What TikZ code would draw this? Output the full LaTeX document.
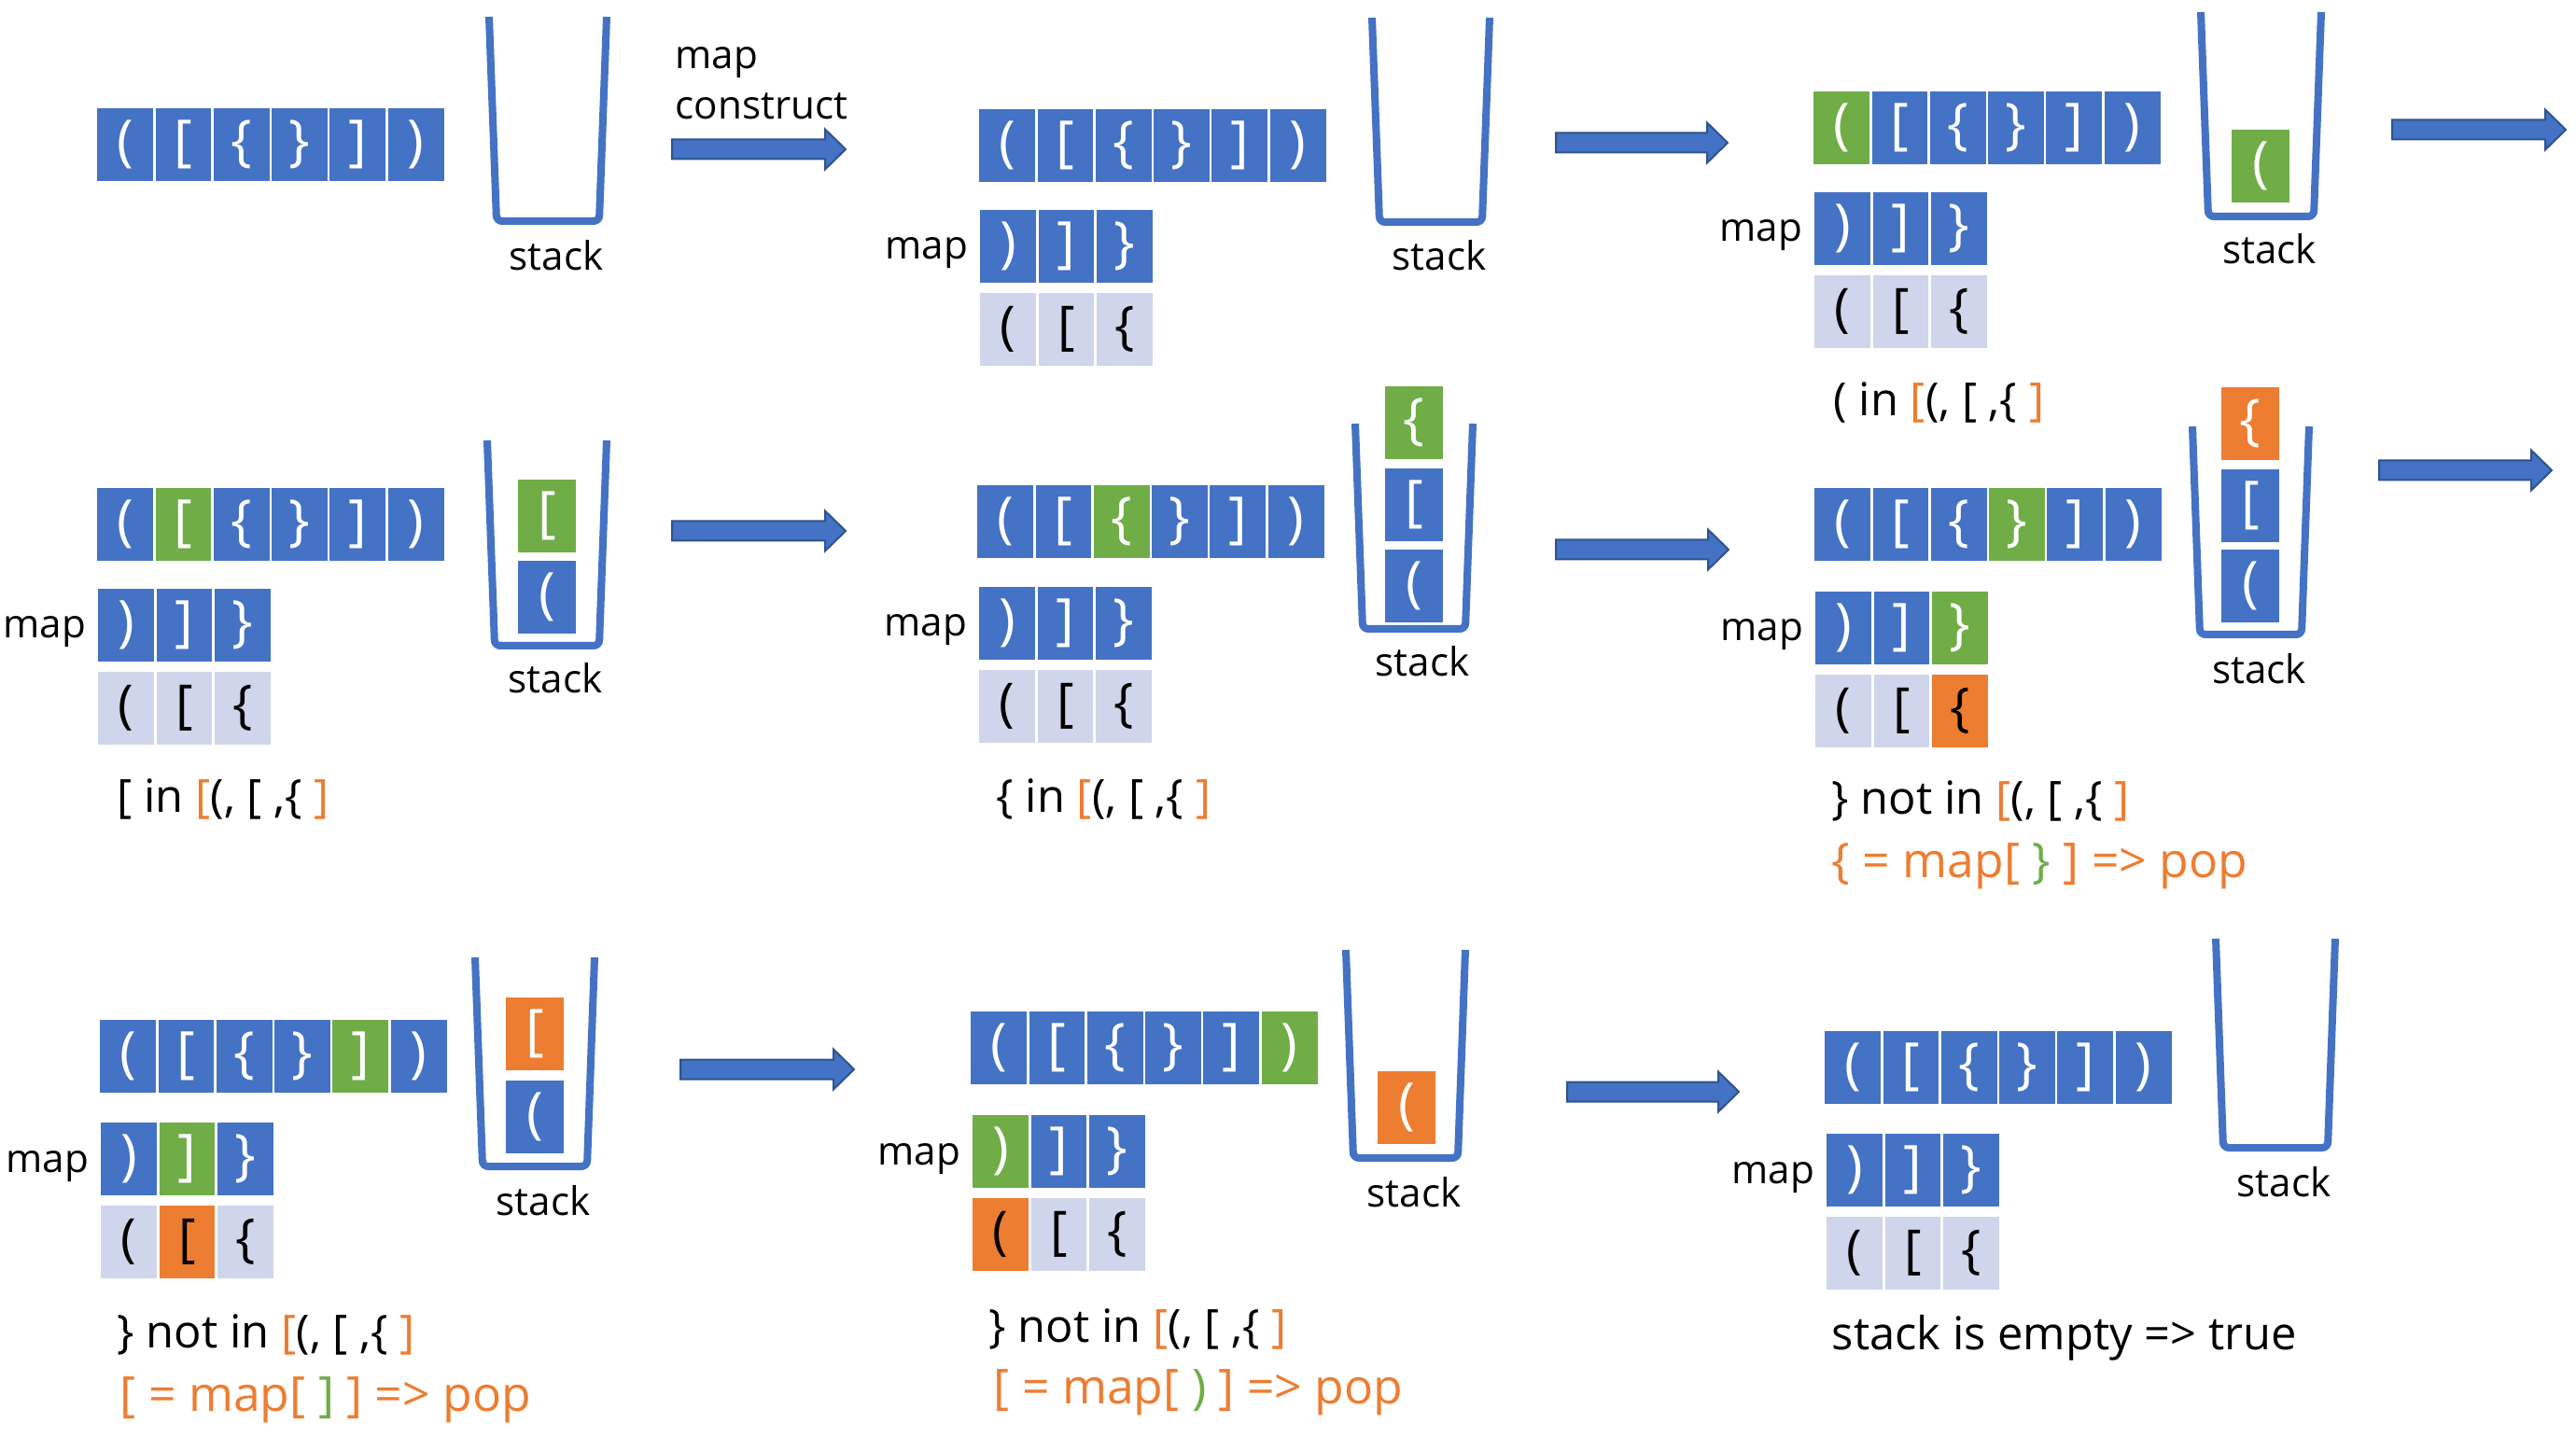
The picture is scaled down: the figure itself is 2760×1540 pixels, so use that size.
\documentclass[tikz,border=0pt]{standalone}
\usepackage{fontspec}
\setmainfont{Open Sans}
\definecolor{cblue}{HTML}{4472C4}
\definecolor{cgreen}{HTML}{70AD47}
\definecolor{corange}{HTML}{ED7D31}
\definecolor{ckey}{HTML}{CFD5EA}
\definecolor{cedge}{HTML}{2F528F}
\tikzset{
  cellbox/.style={minimum width=0.623cm, minimum height=0.80cm, inner sep=0pt, draw=white, line width=0.025cm, text=white, font=\fontsize{17}{19}\selectfont},
  keybox/.style={cellbox, text=black, font=\fontsize{16}{18}\selectfont},
  itembox/.style={minimum width=0.62cm, minimum height=0.78cm, inner sep=0pt, text=white, font=\fontsize{17}{19}\selectfont},
  lbl/.style={font=\fontsize{12}{14}\selectfont, inner sep=0pt, text=black},
  steptxt/.style={font=\fontsize{13.9}{16}\selectfont, inner sep=0pt, anchor=base west, text=black},
  poptxt/.style={steptxt, font=\fontsize{14.7}{17}\selectfont, text=corange},
  stackline/.style={draw=cblue, line width=0.08cm, rounded corners=0.06cm},
  blockarrow/.style={fill=cblue, draw=cedge, line width=0.02cm},
}
\newcommand\strrow[9]{%
  \node[cellbox,fill=#4] (#1-1) at ({#2+31.15},{#3+40}) {(};
  \node[cellbox,fill=#5] (#1-2) at ({#2+93.45},{#3+40}) {[};
  \node[cellbox,fill=#6] (#1-3) at ({#2+155.75},{#3+40}) {\{};
  \node[cellbox,fill=#7] (#1-4) at ({#2+218.05},{#3+40}) {\}};
  \node[cellbox,fill=#8] (#1-5) at ({#2+280.35},{#3+40}) {]};
  \node[cellbox,fill=#9] (#1-6) at ({#2+342.65},{#3+40}) {)};
}
\newcommand\mapkey[9]{%
  \node[cellbox,fill=#4] (#1-m1) at ({#2+31.15},{#3+40}) {)};
  \node[cellbox,fill=#5] (#1-m2) at ({#2+93.45},{#3+40}) {]};
  \node[cellbox,fill=#6] (#1-m3) at ({#2+155.75},{#3+40}) {\}};
  \node[keybox,fill=#7] (#1-k1) at ({#2+31.15},{#3+129}) {(};
  \node[keybox,fill=#8] (#1-k2) at ({#2+93.45},{#3+129}) {[};
  \node[keybox,fill=#9] (#1-k3) at ({#2+155.75},{#3+129}) {\{};
  \node[lbl,anchor=base east] (#1-ml) at ({#2-11},{#3+54}) {map};
}
\newcommand\stk[6]{%
  \draw[stackline] (#2,#4) -- ({#2+8},#5) -- ({#3-8},#5) -- (#3,#4);
  \node[lbl,anchor=base] (#1) at ({(#2+#3)/2+9},#6) {stack};
}
\newcommand\sitem[5]{\node[itembox,fill=#4] (#1) at (#2,#3) {#5};}
\newcommand\barrow[4]{%
  \draw[blockarrow] (#2,{#4-10.5}) -- ({#3-22},{#4-10.5}) -- ({#3-22},{#4-21.5}) -- (#3,#4) -- ({#3-22},{#4+21.5}) -- ({#3-22},{#4+10.5}) -- (#2,{#4+10.5}) -- cycle;
  \coordinate (#1) at (#2,#4);
}
\begin{document}
\begin{tikzpicture}[x=0.01cm,y=-0.01cm]
\useasboundingbox (0,0) rectangle (2760,1540);
\fill[white] (0,0) rectangle (2760,1540);

% Panel 1
\strrow{a1}{103}{115}{cblue}{cblue}{cblue}{cblue}{cblue}{cblue}
\stk{s1}{524}{650}{18}{237}{290}
\node[lbl,anchor=base west] (mc1) at (723,74) {map};
\node[lbl,anchor=base west] (mc2) at (723,128) {construct};
\barrow{ar1}{720}{906}{160}

% Panel 2
\strrow{a2}{1048}{116}{cblue}{cblue}{cblue}{cblue}{cblue}{cblue}
\mapkey{m2}{1049}{224}{cblue}{cblue}{cblue}{ckey}{ckey}{ckey}
\stk{s2}{1470}{1596}{19}{238}{290}
\barrow{ar2}{1667}{1851}{153}

% Panel 3
\strrow{a3}{1942}{97}{cgreen}{cblue}{cblue}{cblue}{cblue}{cblue}
\mapkey{m3}{1943}{205}{cblue}{cblue}{cblue}{ckey}{ckey}{ckey}
\stk{s3}{2358}{2487}{13}{232}{283}
\sitem{i3a}{2422}{178}{cgreen}{(}
\node[steptxt] (t3) at (1964,446) {( in \textcolor{corange}{[}(, [ ,\{ \textcolor{corange}{]}};
\barrow{ar3}{2563}{2749}{139}

% Panel 4
\strrow{a4}{103}{522}{cblue}{cgreen}{cblue}{cblue}{cblue}{cblue}
\mapkey{m4}{104}{630}{cblue}{cblue}{cblue}{ckey}{ckey}{ckey}
\stk{s4}{522}{650}{472}{692}{743}
\sitem{i4a}{586}{553}{cgreen}{[}
\sitem{i4b}{586}{640}{cblue}{(}
\node[steptxt] (t4) at (125,870) {[ in \textcolor{corange}{[}(, [ ,\{ \textcolor{corange}{]}};
\barrow{ar4}{720}{906}{569}

% Panel 5
\strrow{a5}{1046}{519}{cblue}{cblue}{cgreen}{cblue}{cblue}{cblue}
\mapkey{m5}{1048}{628}{cblue}{cblue}{cblue}{ckey}{ckey}{ckey}
\stk{s5}{1452}{1578}{454}{674}{725}
\sitem{i5a}{1515}{453}{cgreen}{\{}
\sitem{i5b}{1515}{541}{cblue}{[}
\sitem{i5c}{1515}{628}{cblue}{(}
\node[steptxt] (t5) at (1067,870) {\{ in \textcolor{corange}{[}(, [ ,\{ \textcolor{corange}{]}};
\barrow{ar5}{1667}{1852}{589}

% Panel 6
\strrow{a6}{1943}{522}{cblue}{cblue}{cblue}{cgreen}{cblue}{cblue}
\mapkey{m6}{1944}{633}{cblue}{cblue}{cgreen}{ckey}{ckey}{corange}
\stk{s6}{2349}{2474}{457}{680}{733}
\sitem{i6a}{2411}{454}{corange}{\{}
\sitem{i6b}{2411}{542}{cblue}{[}
\sitem{i6c}{2411}{628}{cblue}{(}
\node[steptxt] (t6a) at (1962,873) {\} not in \textcolor{corange}{[}(, [ ,\{ \textcolor{corange}{]}};
\node[poptxt] (t6b) at (1962,940) {\{ = map[ \textcolor{cgreen}{\}} ] => pop};
\barrow{ar6}{2549}{2734}{504}

% Panel 7
\strrow{a7}{106}{1092}{cblue}{cblue}{cblue}{cblue}{cgreen}{cblue}
\mapkey{m7}{107}{1202}{cblue}{cgreen}{cblue}{ckey}{corange}{ckey}
\stk{s7}{509}{637}{1026}{1250}{1302}
\sitem{i7a}{573}{1108}{corange}{[}
\sitem{i7b}{573}{1197}{cblue}{(}
\node[steptxt] (t7a) at (125,1444) {\} not in \textcolor{corange}{[}(, [ ,\{ \textcolor{corange}{]}};
\node[poptxt] (t7b) at (128,1512) {[ = map[ \textcolor{cgreen}{]} ] => pop};
\barrow{ar7}{729}{915}{1146}

% Panel 8
\strrow{a8}{1039}{1083}{cblue}{cblue}{cblue}{cblue}{cblue}{cgreen}
\mapkey{m8}{1041}{1194}{cgreen}{cblue}{cblue}{corange}{ckey}{ckey}
\stk{s8}{1442}{1570}{1018}{1241}{1293}
\sitem{i8a}{1507}{1187}{corange}{(}
\node[steptxt] (t8a) at (1059,1438) {\} not in \textcolor{corange}{[}(, [ ,\{ \textcolor{corange}{]}};
\node[poptxt] (t8b) at (1064,1504) {[ = map[ \textcolor{cgreen}{)} ] => pop};
\barrow{ar8}{1679}{1863}{1170}

% Panel 9
\strrow{a9}{1954}{1104}{cblue}{cblue}{cblue}{cblue}{cblue}{cblue}
\mapkey{m9}{1956}{1214}{cblue}{cblue}{cblue}{ckey}{ckey}{ckey}
\stk{s9}{2374}{2502}{1006}{1230}{1282}
\node[steptxt] (t9) at (1962,1446) {stack is empty => true};
\end{tikzpicture}
\end{document}
